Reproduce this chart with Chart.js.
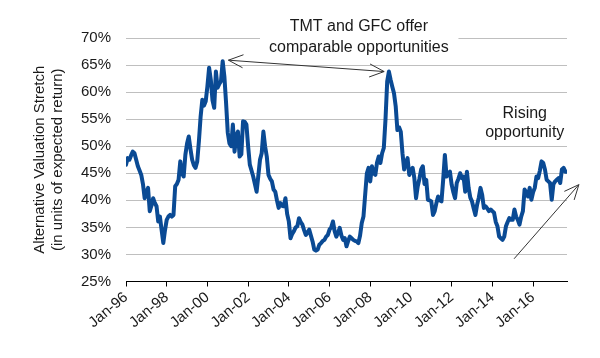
<!DOCTYPE html>
<html>
<head>
<meta charset="utf-8">
<script src="https://cdn.jsdelivr.net/npm/chart.js@4"></script>
<style>
html,body{margin:0;padding:0;background:#fff;}
#wrap{width:600px;height:358px;position:relative;}
</style>
</head>
<body>
<div id="wrap"><canvas id="c" width="600" height="358"></canvas></div>
<script>
// Monthly series, Jan-96 .. Sep-17 (month index 0 = Jan-96)
const startYear = 1996;
const xTickLabels = ['Jan-96','Jan-98','Jan-00','Jan-02','Jan-04','Jan-06','Jan-08','Jan-10','Jan-12','Jan-14','Jan-16'];
const yTickValues = [25,30,35,40,45,50,55,60,65,70];
const stretch = [
46.6,47.8,47.5,48.3,49.0,48.7,47.5,46.3,45.5,44.7,43.0,40.4,
41.5,42.3,38.0,39.0,40.4,39.5,38.9,36.1,37.0,34.5,32.1,34.5,
36.4,37.0,37.3,37.0,37.3,42.6,43.0,43.8,47.2,45.0,44.4,48.4,
50.5,51.8,49.5,47.5,46.5,46.0,47.2,51.0,55.5,58.6,57.5,58.3,
61.1,64.5,62.3,58.5,57.1,63.8,60.8,61.5,62.0,65.7,62.9,58.0,
52.5,50.5,50.0,54.0,49.0,52.0,52.7,48.1,48.5,54.6,54.5,54.0,
50.0,46.6,45.5,44.4,43.0,41.6,44.5,47.5,48.7,52.7,50.0,48.1,
44.7,44.0,43.5,42.0,41.6,40.0,38.6,39.5,39.0,38.9,40.4,37.5,
36.1,33.0,33.8,34.3,35.0,35.2,36.7,36.0,35.5,34.5,33.6,34.0,
34.6,33.5,32.4,30.9,30.7,30.9,31.8,32.1,32.5,32.7,33.3,33.6,
34.6,35.0,36.1,34.3,33.3,34.0,34.9,33.5,32.7,33.0,31.5,32.5,
33.3,33.0,32.7,32.5,32.4,32.1,33.5,35.8,37.0,41.0,45.0,46.0,
43.5,46.3,45.0,44.7,47.0,48.1,46.9,48.7,49.7,55.0,62.0,63.8,
62.3,61.0,59.8,57.4,53.0,53.5,52.7,48.7,45.7,47.0,47.8,44.7,
45.5,46.0,44.1,40.4,42.6,44.0,45.7,46.3,43.0,43.8,40.1,40.0,
39.8,37.3,38.0,39.5,40.7,40.0,39.8,43.8,48.4,44.4,45.0,45.3,
42.9,41.5,40.4,43.2,44.0,45.0,44.1,44.4,41.6,45.3,42.3,40.5,
39.8,38.5,37.3,39.2,40.5,42.3,41.0,38.6,38.9,38.5,38.0,38.3,
38.0,37.7,36.0,35.2,33.3,33.0,32.7,33.3,35.2,36.0,36.7,36.4,
36.4,38.3,37.0,36.4,35.5,37.0,38.0,42.0,41.5,40.7,42.3,40.1,
41.5,42.3,44.4,44.1,45.5,47.2,46.9,45.7,43.8,43.5,43.2,40.1,
43.0,43.5,43.8,44.1,43.2,45.7,46.0,45.3,45.3
];
const points = stretch.map((v, i) => ({x: i, y: v}));

const FONT = "'Liberation Sans', Arial, Helvetica, sans-serif";
const TEXT = '#1a1a1a';

// Annotation placement (in data units: month index, percent)
const notes = {
  boxes: [[79, 196, 76, 67], [198, 272, 58, 51]],
  texts: [
    ['TMT and GFC offer', 137.3, 72.1],
    ['comparable opportunities', 137.3, 68.3],
    ['Rising', 235.1, 56.0],
    ['opportunity', 235.1, 52.6]
  ],
  arrows: [
    {from: [60.4, 65.9], to: [152.2, 63.8], both: true},
    {from: [228.8, 29.2], to: [267, 42.9], both: false}
  ]
};

function head(ctx, tx, ty, fx, fy) {
  const ang = Math.atan2(ty - fy, tx - fx);
  const len = 16, spread = 0.42;
  ctx.beginPath();
  ctx.moveTo(tx - len * Math.cos(ang - spread), ty - len * Math.sin(ang - spread));
  ctx.lineTo(tx, ty);
  ctx.lineTo(tx - len * Math.cos(ang + spread), ty - len * Math.sin(ang + spread));
  ctx.stroke();
}

const annot = {
  id: 'annot',
  beforeDatasetsDraw(chart) {
    const {ctx, scales: {x, y}} = chart;
    ctx.save();
    ctx.fillStyle = '#fff';
    notes.boxes.forEach(b => {
      const x0 = x.getPixelForValue(b[0]), x1 = x.getPixelForValue(b[1]);
      const y0 = y.getPixelForValue(b[2]), y1 = y.getPixelForValue(b[3]);
      ctx.fillRect(x0, y0, x1 - x0, y1 - y0);
    });
    ctx.restore();
  },
  afterDatasetsDraw(chart) {
    const {ctx, scales: {x, y}} = chart;
    ctx.save();
    ctx.fillStyle = TEXT;
    ctx.font = '16px ' + FONT;
    ctx.textAlign = 'center';
    ctx.textBaseline = 'middle';
    notes.texts.forEach(t => ctx.fillText(t[0], x.getPixelForValue(t[1]), y.getPixelForValue(t[2])));
    ctx.strokeStyle = '#333';
    ctx.lineWidth = 1;
    notes.arrows.forEach(a => {
      const fx = x.getPixelForValue(a.from[0]), fy = y.getPixelForValue(a.from[1]);
      const tx = x.getPixelForValue(a.to[0]), ty = y.getPixelForValue(a.to[1]);
      ctx.beginPath(); ctx.moveTo(fx, fy); ctx.lineTo(tx, ty); ctx.stroke();
      head(ctx, tx, ty, fx, fy);
      if (a.both) head(ctx, fx, fy, tx, ty);
    });
    ctx.restore();
  }
};

new Chart(document.getElementById('c'), {
  type: 'line',
  data: {
    datasets: [{
      data: points,
      borderColor: '#0a4a94',
      borderWidth: 4,
      pointRadius: 0,
      tension: 0,
      borderJoinStyle: 'round',
      borderCapStyle: 'round'
    }]
  },
  options: {
    responsive: false,
    animation: false,
    devicePixelRatio: 1,
    layout: {padding: {top: 38, right: 33, left: 0, bottom: 0}},
    plugins: {legend: {display: false}, tooltip: {enabled: false}},
    scales: {
      x: {
        type: 'linear',
        min: 0,
        max: stretch.length - 1,
        afterBuildTicks: s => { s.ticks = xTickLabels.map((_, i) => ({value: i * 24})); },
        afterFit: s => { s.height = 76.5; },
        grid: {drawOnChartArea: false, drawTicks: true, tickLength: 5, tickColor: '#000'},
        border: {display: true, color: '#000', width: 1},
        ticks: {
          autoSkip: false,
          minRotation: 40, maxRotation: 40,
          padding: 2,
          color: TEXT,
          font: {family: FONT, size: 15},
          callback: (v, i) => xTickLabels[i]
        }
      },
      y: {
        min: 25, max: 70,
        afterBuildTicks: s => { s.ticks = yTickValues.map(v => ({value: v})); },
        afterFit: s => { s.width = 126; },
        grid: {color: '#bfbfbf', lineWidth: 1, drawTicks: false},
        border: {display: false},
        ticks: {
          padding: 15,
          color: TEXT,
          font: {family: FONT, size: 15},
          callback: v => v + '%'
        },
        title: {
          display: true,
          text: ['Alternative Valuation Stretch', '(in units of expected return)'],
          color: TEXT,
          font: {family: FONT, size: 15, lineHeight: 1.2},
          padding: {top: 31, bottom: 0}
        }
      }
    }
  },
  plugins: [annot]
});
</script>
</body>
</html>
